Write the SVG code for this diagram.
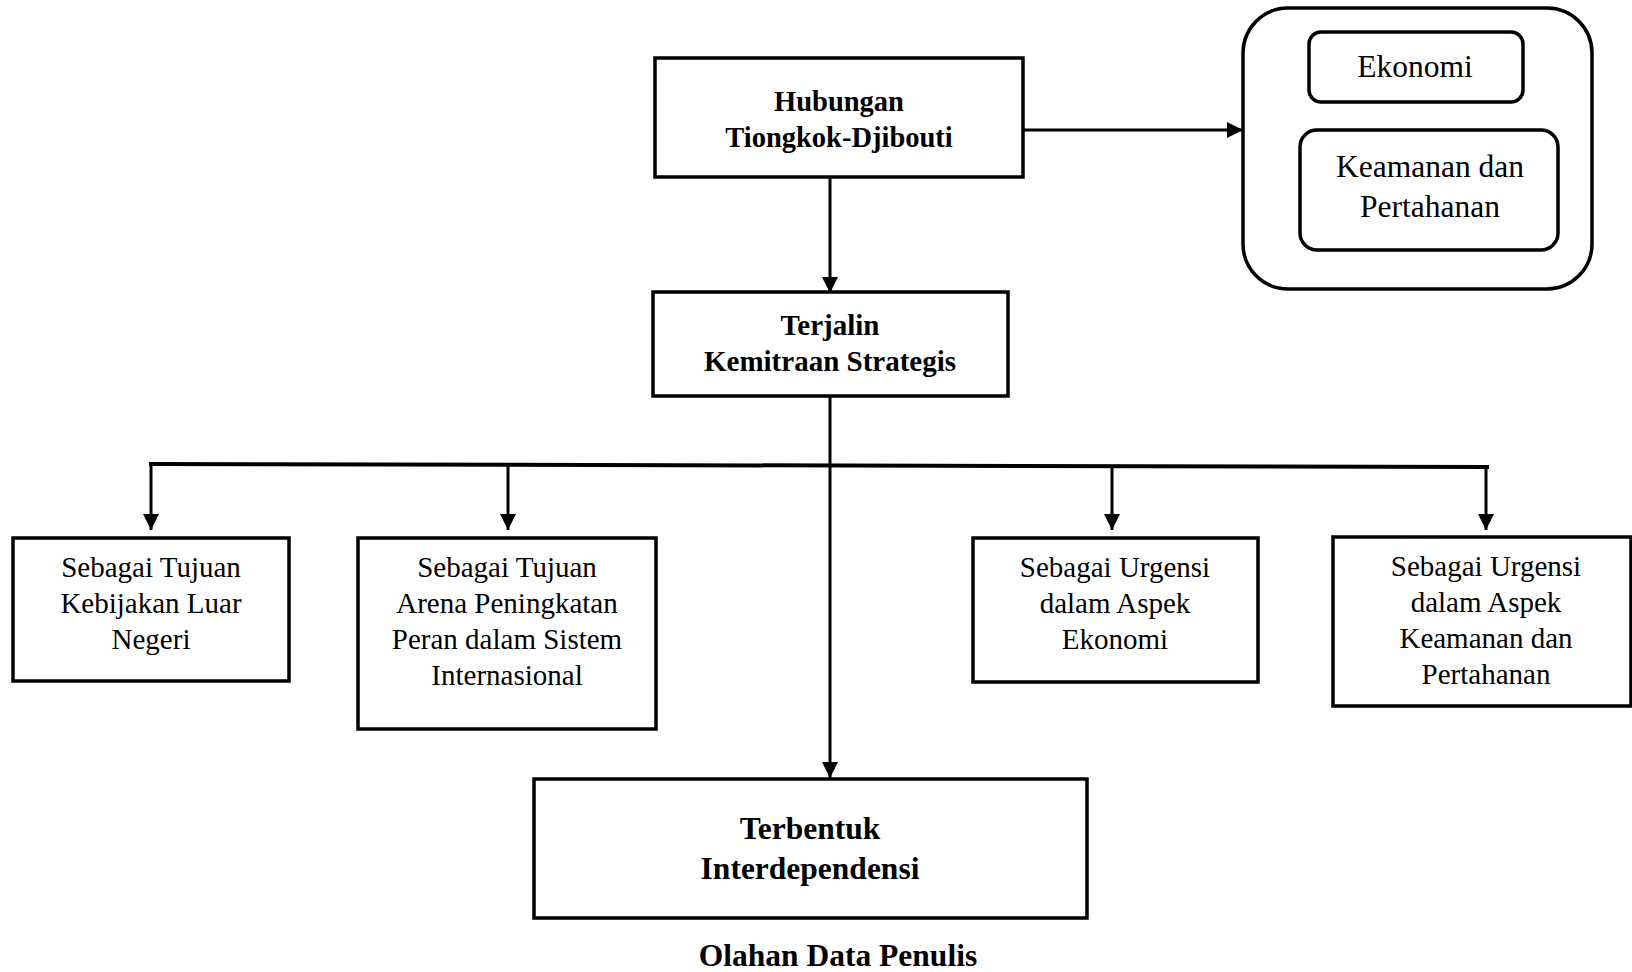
<svg xmlns="http://www.w3.org/2000/svg" width="1632" height="972" viewBox="0 0 1632 972">
<style>
.box{fill:#fff;stroke:#000;stroke-width:3.5}
.rbox{fill:#fff;stroke:#000;stroke-width:3.5}
.con{fill:none;stroke:#000;stroke-width:3}
.bus{fill:none;stroke:#000;stroke-width:4}
.b{font-family:"Liberation Serif","Times New Roman",serif;font-weight:bold;text-anchor:middle;fill:#000}
.r{font-family:"Liberation Serif","Times New Roman",serif;text-anchor:middle;fill:#000}
</style>
<defs>
<marker id="ah" viewBox="0 0 16 16" refX="16" refY="8" markerWidth="16" markerHeight="16" markerUnits="userSpaceOnUse" orient="auto">
<path d="M0,0 L16,8 L0,16 z" fill="#000"/>
</marker>
</defs>
<rect width="1632" height="972" fill="#fff"/>

<g id="connectors">
<line class="con" x1="830" y1="177" x2="830" y2="293" marker-end="url(#ah)"/>
<line class="con" x1="1023" y1="130" x2="1243" y2="130" marker-end="url(#ah)"/>
<line class="con" x1="830" y1="396" x2="830" y2="778" marker-end="url(#ah)"/>
<line class="bus" x1="149" y1="464" x2="1489" y2="467"/>
<line class="con" x1="151" y1="464" x2="151" y2="530" marker-end="url(#ah)"/>
<line class="con" x1="508" y1="465" x2="508" y2="530" marker-end="url(#ah)"/>
<line class="con" x1="1112" y1="466" x2="1112" y2="530" marker-end="url(#ah)"/>
<line class="con" x1="1486" y1="467" x2="1486" y2="530" marker-end="url(#ah)"/>
</g>

<g id="hubungan">
<rect class="box" x="655" y="58" width="368" height="119"/>
<text class="b" x="839" y="111" font-size="28.5">Hubungan</text>
<text class="b" x="839" y="147" font-size="28.5">Tiongkok-Djibouti</text>
</g>

<g id="aspek">
<rect class="rbox" x="1243" y="8" width="349" height="281" rx="45" ry="45"/>
</g>
<g id="ekonomi">
<rect class="rbox" x="1309" y="32" width="214" height="70" rx="12" ry="12"/>
<text class="r" x="1415" y="77" font-size="31.5">Ekonomi</text>
</g>
<g id="keamanan">
<rect class="rbox" x="1300" y="130" width="258" height="120" rx="17" ry="17"/>
<text class="r" x="1430" y="177" font-size="31.5">Keamanan dan</text>
<text class="r" x="1430" y="217" font-size="31.5">Pertahanan</text>
</g>

<g id="terjalin">
<rect class="box" x="653" y="292" width="355" height="104"/>
<text class="b" x="830" y="335" font-size="29">Terjalin</text>
<text class="b" x="830" y="371" font-size="29">Kemitraan Strategis</text>
</g>

<g id="tujuan-kebijakan">
<rect class="box" x="13" y="538" width="276" height="143"/>
<text class="r" x="151" y="577" font-size="29">Sebagai Tujuan</text>
<text class="r" x="151" y="613" font-size="29">Kebijakan Luar</text>
<text class="r" x="151" y="649" font-size="29">Negeri</text>
</g>

<g id="tujuan-arena">
<rect class="box" x="358" y="538" width="298" height="191"/>
<text class="r" x="507" y="577" font-size="29">Sebagai Tujuan</text>
<text class="r" x="507" y="613" font-size="29">Arena Peningkatan</text>
<text class="r" x="507" y="649" font-size="29">Peran dalam Sistem</text>
<text class="r" x="507" y="685" font-size="29">Internasional</text>
</g>

<g id="urgensi-ekonomi">
<rect class="box" x="973" y="538" width="285" height="144"/>
<text class="r" x="1115" y="577" font-size="29">Sebagai Urgensi</text>
<text class="r" x="1115" y="613" font-size="29">dalam Aspek</text>
<text class="r" x="1115" y="649" font-size="29">Ekonomi</text>
</g>

<g id="urgensi-keamanan">
<rect class="box" x="1333" y="537" width="298" height="169"/>
<text class="r" x="1486" y="576" font-size="29">Sebagai Urgensi</text>
<text class="r" x="1486" y="612" font-size="29">dalam Aspek</text>
<text class="r" x="1486" y="648" font-size="29">Keamanan dan</text>
<text class="r" x="1486" y="684" font-size="29">Pertahanan</text>
</g>

<g id="terbentuk">
<rect class="box" x="534" y="779" width="553" height="139"/>
<text class="b" x="810" y="839" font-size="31.5">Terbentuk</text>
<text class="b" x="810" y="879" font-size="31.5">Interdependensi</text>
</g>

<g id="caption">
<text class="b" x="838" y="966" font-size="31.5">Olahan Data Penulis</text>
</g>
</svg>
